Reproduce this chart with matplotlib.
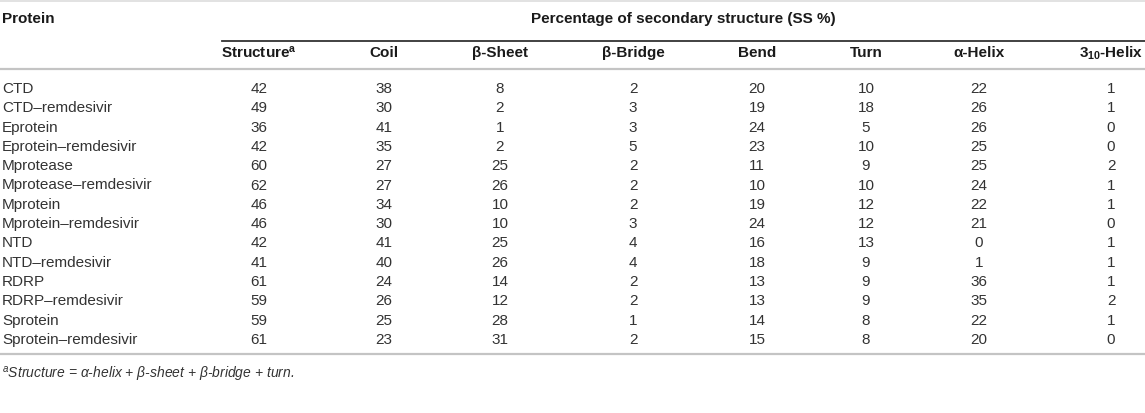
import matplotlib
matplotlib.use("Agg")
import matplotlib.pyplot as plt

plt.rcParams['font.family'] = ['Liberation Sans', 'DejaVu Sans']
plt.rcParams['mathtext.fontset'] = 'custom'
plt.rcParams['mathtext.rm'] = 'Liberation Sans'
plt.rcParams['mathtext.it'] = 'Liberation Sans:italic'
plt.rcParams['mathtext.bf'] = 'Liberation Sans:bold'

# table data
proteins = ["CTD", "CTD–remdesivir", "Eprotein", "Eprotein–remdesivir",
            "Mprotease", "Mprotease–remdesivir", "Mprotein", "Mprotein–remdesivir",
            "NTD", "NTD–remdesivir", "RDRP", "RDRP–remdesivir",
            "Sprotein", "Sprotein–remdesivir"]
columns = ["Structure$^{\\mathbf{a}}$", "Coil", "β-Sheet", "β-Bridge", "Bend",
           "Turn", "α-Helix", "3$_{\\mathbf{10}}$-Helix"]
structure = [42, 49, 36, 42, 60, 62, 46, 46, 42, 41, 61, 59, 59, 61]
coil = [38, 30, 41, 35, 27, 27, 34, 30, 41, 40, 24, 26, 25, 23]
beta_sheet = [8, 2, 1, 2, 25, 26, 10, 10, 25, 26, 14, 12, 28, 31]
beta_bridge = [2, 3, 3, 5, 2, 2, 2, 3, 4, 4, 2, 2, 1, 2]
bend = [20, 19, 24, 23, 11, 10, 19, 24, 16, 18, 13, 13, 14, 15]
turn = [10, 18, 5, 10, 9, 10, 12, 12, 13, 9, 9, 9, 8, 8]
alpha_helix = [22, 26, 26, 25, 25, 24, 22, 21, 0, 1, 36, 35, 22, 20]
helix_310 = [1, 1, 0, 0, 2, 1, 1, 0, 1, 1, 1, 2, 1, 0]
values = [structure, coil, beta_sheet, beta_bridge, bend, turn, alpha_helix, helix_310]

header_left = "Protein"
header_span = "Percentage of secondary structure (SS %)"
footnote = "$^{a}$Structure = α-helix + β-sheet + β-bridge + turn."

W, H = 1145, 413
fig = plt.figure(figsize=(W / 100, H / 100), dpi=100)
ax = fig.add_axes([0, 0, 1, 1])
ax.set_xlim(0, W)
ax.set_ylim(H, 0)
ax.axis("off")

col_x = [259, 384, 500, 633, 757, 866, 979, 1111]
row0, row_step = 89, 19.3
fs = 11
body_col = "#333333"
head_col = "#1a1a1a"

# rules
ax.plot([0, W], [1, 1], color="#dddddd", lw=1.2)
ax.plot([222, W], [41, 41], color="#333333", lw=1.3)
ax.plot([0, W], [69, 69], color="#c4c4c4", lw=1.6)
last_y = row0 + row_step * (len(proteins) - 1)
ax.plot([0, W], [last_y + 14, last_y + 14], color="#c4c4c4", lw=1.6)

# headers
ax.text(2, 19, header_left, fontsize=fs, fontweight="bold", color=head_col, va="center")
ax.text(683, 19, header_span, fontsize=fs, fontweight="bold", color=head_col,
        va="center", ha="center")
for x, c in zip(col_x, columns):
    ax.text(x, 53, c, fontsize=fs, fontweight="bold", color=head_col, va="center", ha="center")

# body
for i, p in enumerate(proteins):
    y = row0 + i * row_step
    ax.text(2, y, p, fontsize=fs, color=body_col, va="center")
    for x, col in zip(col_x, values):
        ax.text(x, y, str(col[i]), fontsize=fs, color=body_col, va="center", ha="center")

ax.text(2, last_y + 35, footnote, fontsize=fs - 1, color=body_col, va="center", style="italic")

fig.savefig("out.png", dpi=100)
